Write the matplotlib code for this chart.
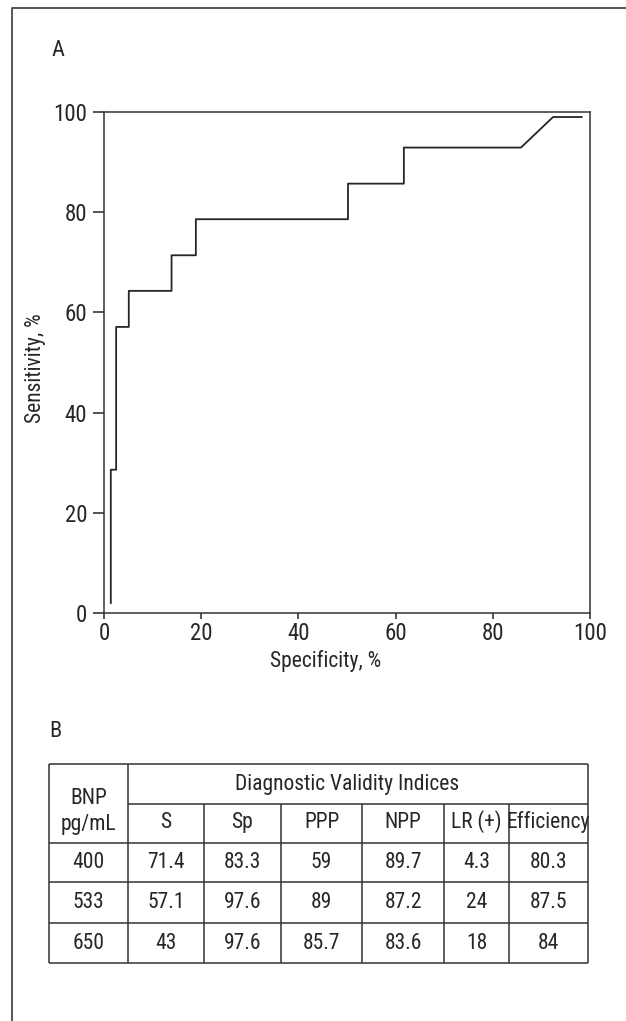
import matplotlib
matplotlib.use("Agg")
import matplotlib.pyplot as plt

plt.rcParams["font.family"] = ["Roboto Condensed", "DejaVu Sans"]

# ROC curve vertices (specificity %, sensitivity %)
spec = [1.4, 1.4, 2.5, 2.5, 5.1, 5.1, 13.9, 13.9, 18.9, 18.9, 50.2, 50.2,
        61.7, 61.7, 85.8, 92.4, 98.3]
sens = [2.0, 28.6, 28.6, 57.1, 57.1, 64.3, 64.3, 71.4, 71.4, 78.6, 78.6, 85.7,
        85.7, 92.9, 92.9, 99.0, 99.0]
ticks = [0, 20, 40, 60, 80, 100]

# Panel B table
bnp = ["400", "533", "650"]
indices = ["S", "Sp", "PPP", "NPP", "LR (+)", "Efficiency"]
s_vals = ["71.4", "57.1", "43"]
sp_vals = ["83.3", "97.6", "97.6"]
ppp_vals = ["59", "89", "85.7"]
npp_vals = ["89.7", "87.2", "83.6"]
lr_vals = ["4.3", "24", "18"]
eff_vals = ["80.3", "87.5", "84"]

W, H = 626, 1021
ink = "#262626"
fig = plt.figure(figsize=(W / 100, H / 100), dpi=100)

# overlay in pixel units for frame, panel letters and the table
ov = fig.add_axes([0, 0, 1, 1])
ov.set_xlim(0, W)
ov.set_ylim(H, 0)
ov.axis("off")
ov.plot([12, 12, W], [H, 8, 8], color="#555555", lw=1.4, solid_capstyle="butt")
ov.text(58, 51, "A", fontsize=16, ha="center", va="center", color=ink)
ov.text(55, 731, "B", fontsize=16, ha="center", va="center", color=ink)

# ROC plot
ax = fig.add_axes([104 / W, (H - 613) / H, 486 / W, 501 / H])
ax.plot(spec, sens, color=ink, lw=1.3)
ax.set_xlim(0, 100)
ax.set_ylim(0, 100)
ax.set_xticks(ticks)
ax.set_yticks(ticks)
for sp in ax.spines.values():
    sp.set_linewidth(1.1)
    sp.set_color("#333333")
ax.tick_params(axis="y", length=8, width=1.1, pad=4, labelsize=16.5, colors=ink)
ax.tick_params(axis="x", length=4.5, width=1.1, pad=2, labelsize=16.5, colors=ink)
ax.set_xlabel("Specificity, %", fontsize=15.5, color=ink, va="center")
ax.xaxis.set_label_coords((326 - 104) / 486, (613 - 661) / 501)
ax.set_ylabel("Sensitivity, %", fontsize=15.5, color=ink, va="center")
ax.yaxis.set_label_coords((36 - 104) / 486, (613 - 368) / 501)

# table grid
cols = [49, 128, 204, 281, 362, 444, 509, 588]
rows = [764, 804, 843, 882, 923, 963]
lc = "#333333"
ov.hlines([rows[0], rows[2], rows[3], rows[4], rows[5]], cols[0], cols[-1], color=lc, lw=1.1)
ov.hlines(rows[1], cols[1], cols[-1], color=lc, lw=1.1)
ov.vlines([cols[0], cols[1], cols[-1]], rows[0], rows[-1], color=lc, lw=1.1)
ov.vlines(cols[2:-1], rows[1], rows[-1], color=lc, lw=1.1)

ts = 15.5
ov.text((cols[0] + cols[1]) / 2, 798, "BNP", fontsize=ts, ha="center", va="center", color=ink)
ov.text((cols[0] + cols[1]) / 2, 824, "pg/mL", fontsize=ts, ha="center", va="center", color=ink)
ov.text(347, 784, "Diagnostic Validity Indices", fontsize=ts, ha="center", va="center", color=ink)
for j, name in enumerate(indices):
    ov.text((cols[j + 1] + cols[j + 2]) / 2, 822, name, fontsize=ts,
            ha="center", va="center", color=ink)

table_cols = [bnp, s_vals, sp_vals, ppp_vals, npp_vals, lr_vals, eff_vals]
for j, col in enumerate(table_cols):
    xc = (cols[j] + cols[j + 1]) / 2
    for i, v in enumerate(col):
        yc = (rows[i + 2] + rows[i + 3]) / 2
        ov.text(xc, yc, v, fontsize=ts, ha="center", va="center", color=ink)

fig.savefig("out.png", dpi=100)
